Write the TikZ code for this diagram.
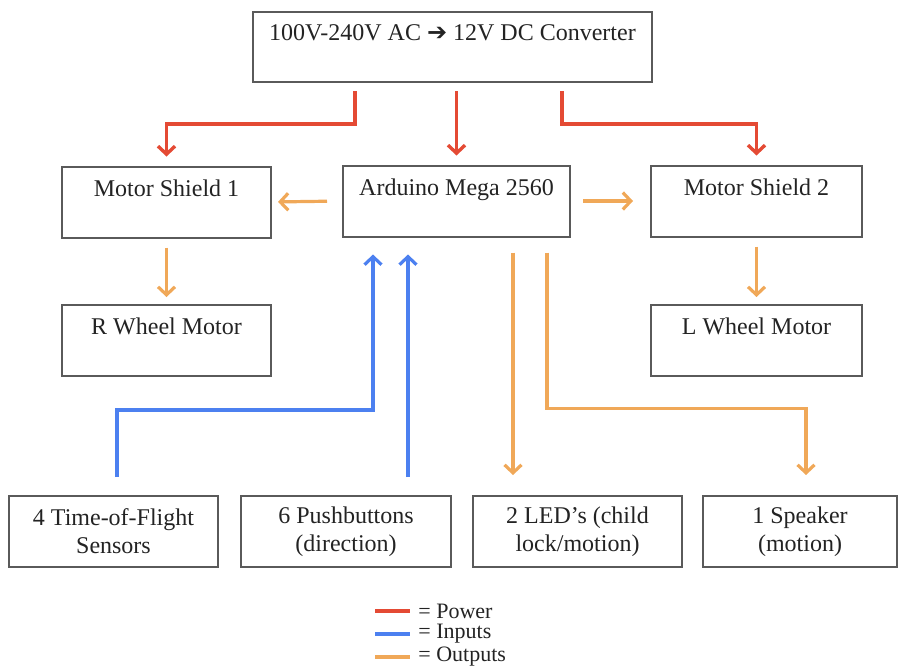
\documentclass[tikz,border=0pt]{standalone}
\usepackage{fontspec}
\setmainfont{Liberation Serif}
\newfontfamily\symfont{DejaVu Sans}
\usepackage{tikz}
\usetikzlibrary{arrows.meta,positioning}
\definecolor{powerred}{RGB}{228, 74, 52}
\definecolor{inputblue}{RGB}{76, 128, 240}
\definecolor{outputorange}{RGB}{240, 168, 88}
\definecolor{boxgray}{RGB}{90, 90, 90}
\definecolor{textgray}{RGB}{35, 35, 35}

\begin{document}
\begin{tikzpicture}[
  x=0.5pt, y=-0.5pt,
  box/.style={rectangle, draw=boxgray, line width=1pt, inner sep=0pt, outer sep=0pt,
    minimum height=35.5pt, align=center, text=textgray,
    font=\fontsize{12}{14}\selectfont},
  legtext/.style={anchor=west, inner sep=0pt, text=textgray, font=\fontsize{11}{12}\selectfont},
  power/.style={-{Straight Barb[length=4pt,width=8.5pt]}, line width=1.7pt, color=powerred},
  input/.style={-{Straight Barb[length=4pt,width=8.5pt]}, line width=1.6pt, color=inputblue},
  output/.style={-{Straight Barb[length=4pt,width=8.5pt]}, line width=1.6pt, color=outputorange}
]
  \useasboundingbox (0,0) rectangle (904,670);

  \node[box, minimum width=199.5pt, minimum height=35pt] (conv) at (452.5,47)
    {100V-240V AC {\symfont ➔} 12V DC Converter\\\mbox{}};
  \node[box, minimum width=104.5pt] (ms1) at (166.5,202) {Motor Shield 1\\\mbox{}};
  \node[box, minimum width=113.5pt] (ard) at (456.5,201) {Arduino Mega 2560\\\mbox{}};
  \node[box, minimum width=105.5pt] (ms2) at (756.5,201) {Motor Shield 2\\\mbox{}};
  \node[box, minimum width=104.5pt] (rwm) at (166.5,340.5) {R Wheel Motor\\\mbox{}};
  \node[box, minimum width=105.5pt] (lwm) at (756.5,340.5) {L Wheel Motor\\\mbox{}};

  \node[box, minimum width=104.5pt] (tof) at (113.5,531.5) {4 Time-of-Flight\\Sensors};
  \node[box, minimum width=105pt] (push) at (346,531.5) {6 Pushbuttons\\(direction)};
  \node[box, minimum width=104.5pt] (led) at (577.5,531.5) {2 LED’s (child\\lock/motion)};
  \node[box, minimum width=97pt] (spk) at (800,531.5) {1 Speaker\\(motion)};

  % power
  \draw[power, shorten <=4.5pt, shorten >=5pt] ([xshift=-48.75pt]conv.south) -- ++(0,42) -| (ms1.north);
  \draw[power, shorten <=4.5pt, shorten >=5pt] (ard.north |- conv.south) -- (ard.north);
  \draw[power, shorten <=4.5pt, shorten >=5pt] ([xshift=54.75pt]conv.south) -- ++(0,42) -| (ms2.north);

  % outputs to the motors
  \draw[output, shorten <=8pt, shorten >=3.5pt] (ard.west) -- (ms1.east);
  \draw[output, shorten <=6.5pt, shorten >=9pt] (ard.east) -- (ms2.west);
  \draw[output, shorten <=5pt, shorten >=4pt] (ms1.south) -- (rwm.north);
  \draw[output, shorten <=5pt, shorten >=4pt] (ms2.south) -- (lwm.north);

  % inputs
  \coordinate (b1) at ([xshift=-41.75pt]ard.south);
  \coordinate (b2) at ([xshift=-24.25pt]ard.south);
  \draw[input, shorten <=9.5pt, shorten >=9pt] ([xshift=1.75pt]tof.north) -- ++(0,-86) -| (b1);
  \draw[input, shorten <=9.5pt, shorten >=9pt] (b2 |- push.north) -- (b2);

  % outputs to leds and speaker
  \coordinate (o1) at ([xshift=28.25pt]ard.south);
  \coordinate (o2) at ([xshift=45.25pt]ard.south);
  \draw[output, shorten <=8pt, shorten >=10.5pt] (o1) -- (o1 |- led.north);
  \draw[output, shorten <=8pt, shorten >=10.5pt] (o2) -- ++(0,172) -| ([xshift=3pt]spk.north);

  % legend
  \node[legtext] (lp) at (418,611) {= Power};
  \node[legtext] (li) at (418,634) {= Inputs};
  \node[legtext] (lo) at (418,657) {= Outputs};
  \draw[line width=1.6pt, powerred] ([xshift=-21.5pt]lp.west) -- ([xshift=-4pt]lp.west);
  \draw[line width=1.6pt, inputblue] ([xshift=-21.5pt]li.west) -- ([xshift=-4pt]li.west);
  \draw[line width=1.6pt, outputorange] ([xshift=-21.5pt]lo.west) -- ([xshift=-4pt]lo.west);
\end{tikzpicture}
\end{document}
